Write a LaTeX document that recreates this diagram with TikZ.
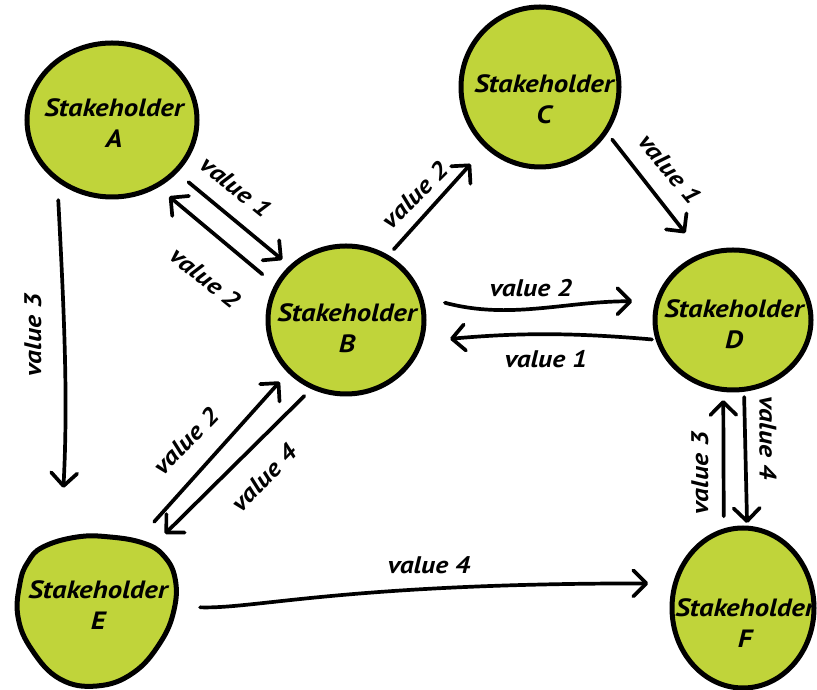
\documentclass[tikz,border=0pt]{standalone}
\usepackage{fontspec}
\setmainfont{PT Sans}
\newfontfamily\handfont{PT Sans}[FakeStretch=1.15]
\usetikzlibrary{arrows.meta,shapes.geometric}
\definecolor{leaf}{RGB}{192,212,58}
\tikzset{
  holder/.style={ellipse, draw=black, line width=5pt, fill=leaf, inner sep=0pt, outer sep=0pt},
  anchorbox/.style={ellipse, inner sep=0pt, outer sep=0pt},
  holdertext/.style={font=\handfont\fontsize{25}{31}\selectfont\bfseries\itshape, align=center, inner sep=0pt},
  flow/.style={line width=3.7pt, line cap=round,
    -{Straight Barb[length=13pt,width=26pt,line cap=round,line join=round]}},
  flowlabel/.style={font=\handfont\fontsize{24}{28}\selectfont\bfseries\itshape, inner sep=0pt},
}
\begin{document}
\begin{tikzpicture}[x=1pt,y=1pt]
\useasboundingbox (0,0) rectangle (817,690);

% stakeholders
\node[holder, minimum width=170pt, minimum height=154pt] (A) at (112,570) {};
\node[holder, minimum width=156pt, minimum height=148pt] (B) at (346,370) {};
\node[holder, minimum width=158pt, minimum height=160pt] (C) at (540,603) {};
\node[holder, minimum width=156pt, minimum height=140pt] (D) at (733,370) {};
\node[holder, minimum width=142pt, minimum height=160pt] (F) at (743,82) {};
% E is drawn as a free-hand blob; its node only carries the anchors
\draw[line width=5pt, fill=leaf] plot[smooth cycle, tension=0.7] coordinates {
  (43,143) (77,153) (110,153) (143,147) (163,135) (175,112) (174,80)
  (160,47) (133,17) (97,4) (60,11) (32,40) (18,73) (20,107) (28,128)};
\node[anchorbox, minimum width=158pt, minimum height=150pt] (E) at (96,78) {};

\node[holdertext] (At) at (114,567) {Stakeholder\\A};
\node[holdertext] (Bt) at (347,362) {Stakeholder\\B};
\node[holdertext] (Ct) at (544,591) {Stakeholder\\C};
\node[holdertext] (Dt) at (734,366) {Stakeholder\\D};
\node[holdertext] (Et) at (98,85) {Stakeholder\\E};
\node[holdertext] (Ft) at (745,67) {Stakeholder\\F};

% value flows
\draw[flow, shorten <=17pt, shorten >=11.7pt] (A.-39.7) -- (B.136.9);
\draw[flow, shorten <=18.5pt, shorten >=16.8pt] (B.154) -- (A.-56.5);
\draw[flow, shorten <=10.3pt, shorten >=24pt] (B.57.4) -- (C.-132.6);
\draw[flow, shorten <=10.4pt, shorten >=28.4pt] (C.-34.9) -- (D.115.5);
\draw[flow, shorten <=26pt, shorten >=25.6pt] (B.18.8) to[out=-15,in=180] (D.166.6);
\draw[flow, shorten <=6.3pt, shorten >=29.5pt] (D.195) to[out=175,in=5] (B.-16.5);
\draw[flow, shorten <=21.3pt, shorten >=57.3pt] (A.-133.1) to[out=-87,in=87] (E.118.4);
\draw[flow, shorten <=32pt, shorten >=14.5pt] (E.61.8) -- (B.-138.6);
\draw[flow, shorten <=12.5pt, shorten >=27.8pt] (B.-116.6) -- (E.50.1);
\draw[flow, shorten <=25.3pt, shorten >=27.3pt] (E.4.9) .. controls +(80,-2.7) and +(-331,0) .. (F.160.5);
\draw[flow, shorten <=14.8pt, shorten >=10.7pt] (F.104.8) -- (D.-98.5);
\draw[flow, shorten <=7.7pt, shorten >=5.1pt] (D.-81.1) -- (F.87.3);

% labels
\node[flowlabel, rotate=-39] (l1) at (236,503) {value 1};
\node[flowlabel, rotate=-39] (l2) at (206,412) {value 2};
\node[flowlabel, rotate=45] (l3) at (415,495) {value 2};
\node[flowlabel, rotate=-50] (l4) at (670,521) {value 1};
\node[flowlabel, anchor=base] (l5) at (531,393) {value 2};
\node[flowlabel, anchor=base] (l6) at (546,322) {value 1};
\node[flowlabel, rotate=90] (l7) at (33,355) {value 3};
\node[flowlabel, rotate=46] (l8) at (186,249) {value 2};
\node[flowlabel, rotate=46] (l9) at (264,212) {value 4};
\node[flowlabel, anchor=base] (l10) at (429,116) {value 4};
\node[flowlabel, rotate=90] (l11) at (700,217) {value 3};
\node[flowlabel, rotate=-90] (l12) at (768,252) {value 4};
\end{tikzpicture}
\end{document}
